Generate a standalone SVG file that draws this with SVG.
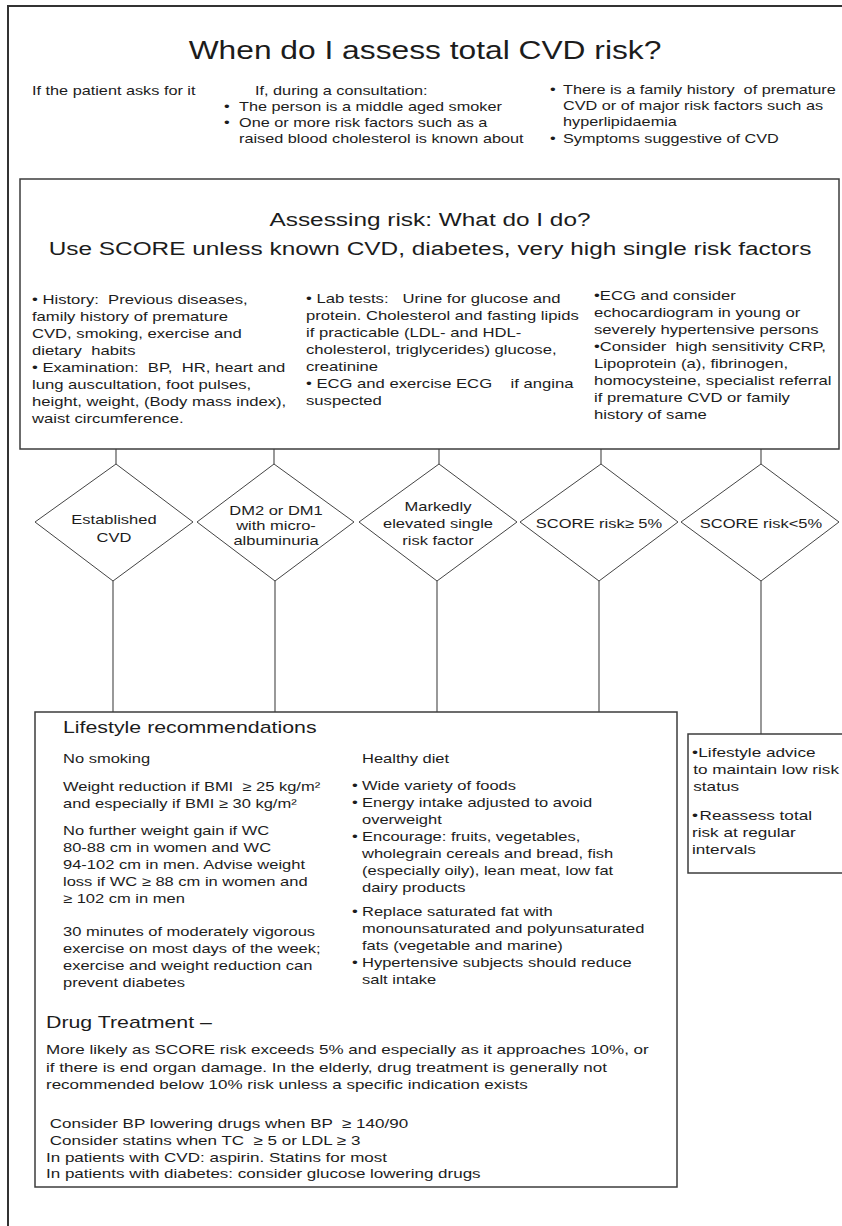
<svg xmlns="http://www.w3.org/2000/svg" width="842" height="1226" viewBox="0 0 842 1226">
<style>
.t{font-family:"Liberation Sans",Arial,sans-serif;fill:#1c1c1c;white-space:pre}
.title{font-size:25px}
.s1{font-size:12.8px}
.h2{font-size:19.2px}
.c2{font-size:13.1px}
.dt{font-size:13px}
.h3{font-size:16.8px}
.b3{font-size:13px}
.rb{font-size:13.5px}
.d4{font-size:13.4px}
.box{fill:#fff;stroke:#3c3c3c;stroke-width:1.5}
.frame{fill:none;stroke:#333;stroke-width:2}
.conn{fill:none;stroke:#555;stroke-width:1.2}
.dia{fill:#fff;stroke:#444;stroke-width:1}
</style>
<rect width="842" height="1226" fill="#fff"/>
<path class="frame" d="M842,6 H8 V1226"/>

<g id="connectors">
<path class="conn" d="M116,449 V464 M274,449 V464 M439,449 V464 M601,449 V464 M761,449 V464"/>
<path class="conn" d="M113,581 V712 M275,581 V712 M437,581 V712 M599,581 V712 M761,581 V734"/>
</g>

<g id="title">
<text class="t title" text-anchor="middle" transform="translate(425,59) scale(1.27,1)">When do I assess total CVD risk?</text>
</g>

<g id="when-patient-asks">
<text class="t s1" transform="translate(32,95) scale(1.27,1)">If the patient asks for it</text>
</g>

<g id="when-consultation">
<text class="t s1" transform="translate(255,95) scale(1.27,1)">If, during a consultation:</text>
<text class="t s1" transform="translate(224,111) scale(1.27,1)">•</text>
<text class="t s1" transform="translate(239,111) scale(1.27,1)">The person is a middle aged smoker</text>
<text class="t s1" transform="translate(224,127) scale(1.27,1)">•</text>
<text class="t s1" transform="translate(239,127) scale(1.27,1)">One or more risk factors such as a</text>
<text class="t s1" transform="translate(239,143) scale(1.27,1)">raised blood cholesterol is known about</text>
</g>

<g id="when-family">
<text class="t s1" transform="translate(550,94) scale(1.27,1)">•</text>
<text class="t s1" transform="translate(563,94) scale(1.27,1)">There is a family history  of premature</text>
<text class="t s1" transform="translate(563,110) scale(1.27,1)">CVD or of major risk factors such as</text>
<text class="t s1" transform="translate(563,126) scale(1.27,1)">hyperlipidaemia</text>
<text class="t s1" transform="translate(550,143) scale(1.27,1)">•</text>
<text class="t s1" transform="translate(563,143) scale(1.27,1)">Symptoms suggestive of CVD</text>
</g>

<g id="assess-box">
<rect class="box" x="20" y="179" width="819" height="270"/>
<text class="t h2" text-anchor="middle" transform="translate(430,226) scale(1.27,1)">Assessing risk: What do I do?</text>
<text class="t h2" text-anchor="middle" transform="translate(430,255) scale(1.27,1)">Use SCORE unless known CVD, diabetes, very high single risk factors</text>
<g transform="translate(32,0) scale(1.27,1)">
<text class="t c2" x="0" y="304">• History:  Previous diseases,</text>
<text class="t c2" x="0" y="321">family history of premature</text>
<text class="t c2" x="0" y="338">CVD, smoking, exercise and</text>
<text class="t c2" x="0" y="355">dietary  habits</text>
<text class="t c2" x="0" y="372">• Examination:  BP,  HR, heart and</text>
<text class="t c2" x="0" y="389">lung auscultation, foot pulses,</text>
<text class="t c2" x="0" y="406">height, weight, (Body mass index),</text>
<text class="t c2" x="0" y="423">waist circumference.</text>
</g>
<g transform="translate(306,0) scale(1.27,1)">
<text class="t c2" x="0" y="303">• Lab tests:   Urine for glucose and</text>
<text class="t c2" x="0" y="320">protein. Cholesterol and fasting lipids</text>
<text class="t c2" x="0" y="337">if practicable (LDL- and HDL-</text>
<text class="t c2" x="0" y="354">cholesterol, triglycerides) glucose,</text>
<text class="t c2" x="0" y="371">creatinine</text>
<text class="t c2" x="0" y="388">• ECG and exercise ECG    if angina</text>
<text class="t c2" x="0" y="405">suspected</text>
</g>
<g transform="translate(594,0) scale(1.27,1)">
<text class="t c2" x="0" y="300">•ECG and consider</text>
<text class="t c2" x="0" y="317">echocardiogram in young or</text>
<text class="t c2" x="0" y="334">severely hypertensive persons</text>
<text class="t c2" x="0" y="351">•Consider  high sensitivity CRP,</text>
<text class="t c2" x="0" y="368">Lipoprotein (a), fibrinogen,</text>
<text class="t c2" x="0" y="385">homocysteine, specialist referral</text>
<text class="t c2" x="0" y="402">if premature CVD or family</text>
<text class="t c2" x="0" y="419">history of same</text>
</g>
</g>

<g id="d-established-cvd">
<polygon class="dia" points="116,464 193,522 113,581 35,522"/>
<text class="t dt" text-anchor="middle" transform="translate(114,524) scale(1.27,1)">Established</text>
<text class="t dt" text-anchor="middle" transform="translate(114,542) scale(1.27,1)">CVD</text>
</g>

<g id="d-diabetes">
<polygon class="dia" points="274,464 354,522 275,581 197,522"/>
<text class="t dt" text-anchor="middle" transform="translate(276,515) scale(1.27,1)">DM2 or DM1</text>
<text class="t dt" text-anchor="middle" transform="translate(276,530) scale(1.27,1)">with micro-</text>
<text class="t dt" text-anchor="middle" transform="translate(276,545) scale(1.27,1)">albuminuria</text>
</g>

<g id="d-single-risk">
<polygon class="dia" points="439,464 517,522 437,581 359,522"/>
<text class="t dt" text-anchor="middle" transform="translate(438,511) scale(1.27,1)">Markedly</text>
<text class="t dt" text-anchor="middle" transform="translate(438,528) scale(1.27,1)">elevated single</text>
<text class="t dt" text-anchor="middle" transform="translate(438,545) scale(1.27,1)">risk factor</text>
</g>

<g id="d-score-high">
<polygon class="dia" points="601,464 678,522 599,581 520,522"/>
<text class="t dt" text-anchor="middle" transform="translate(599,528) scale(1.27,1)">SCORE risk≥ 5%</text>
</g>

<g id="d-score-low">
<polygon class="dia" points="761,464 839,522 761,581 681,522"/>
<text class="t dt" text-anchor="middle" transform="translate(761,528) scale(1.27,1)">SCORE risk&lt;5%</text>
</g>

<g id="lifestyle-box">
<rect class="box" x="35" y="712" width="642" height="475"/>
<text class="t h3" transform="translate(63,733) scale(1.27,1)">Lifestyle recommendations</text>
<g transform="translate(63,0) scale(1.27,1)">
<text class="t b3" x="0" y="763">No smoking</text>
<text class="t b3" x="0" y="791">Weight reduction if BMI  ≥ 25 kg/m²</text>
<text class="t b3" x="0" y="808">and especially if BMI ≥ 30 kg/m²</text>
<text class="t b3" x="0" y="835">No further weight gain if WC</text>
<text class="t b3" x="0" y="852">80-88 cm in women and WC</text>
<text class="t b3" x="0" y="869">94-102 cm in men. Advise weight</text>
<text class="t b3" x="0" y="886">loss if WC ≥ 88 cm in women and</text>
<text class="t b3" x="0" y="903">≥ 102 cm in men</text>
<text class="t b3" x="0" y="936">30 minutes of moderately vigorous</text>
<text class="t b3" x="0" y="953">exercise on most days of the week;</text>
<text class="t b3" x="0" y="970">exercise and weight reduction can</text>
<text class="t b3" x="0" y="987">prevent diabetes</text>
</g>
<g transform="translate(352,0) scale(1.27,1)">
<text class="t b3" x="7.9" y="763">Healthy diet</text>
<text class="t b3" x="0" y="790">•</text>
<text class="t b3" x="7.9" y="790">Wide variety of foods</text>
<text class="t b3" x="0" y="807">•</text>
<text class="t b3" x="7.9" y="807">Energy intake adjusted to avoid</text>
<text class="t b3" x="7.9" y="824">overweight</text>
<text class="t b3" x="0" y="841">•</text>
<text class="t b3" x="7.9" y="841">Encourage: fruits, vegetables,</text>
<text class="t b3" x="7.9" y="858">wholegrain cereals and bread, fish</text>
<text class="t b3" x="7.9" y="875">(especially oily), lean meat, low fat</text>
<text class="t b3" x="7.9" y="892">dairy products</text>
<text class="t b3" x="0" y="916">•</text>
<text class="t b3" x="7.9" y="916">Replace saturated fat with</text>
<text class="t b3" x="7.9" y="933">monounsaturated and polyunsaturated</text>
<text class="t b3" x="7.9" y="950">fats (vegetable and marine)</text>
<text class="t b3" x="0" y="967">•</text>
<text class="t b3" x="7.9" y="967">Hypertensive subjects should reduce</text>
<text class="t b3" x="7.9" y="984">salt intake</text>
</g>
<text class="t h3" transform="translate(46,1028) scale(1.27,1)">Drug Treatment –</text>
<g transform="translate(46,0) scale(1.27,1)">
<text class="t d4" x="0" y="1054">More likely as SCORE risk exceeds 5% and especially as it approaches 10%, or</text>
<text class="t d4" x="0" y="1072">if there is end organ damage. In the elderly, drug treatment is generally not</text>
<text class="t d4" x="0" y="1089">recommended below 10% risk unless a specific indication exists</text>
<text class="t d4" x="3" y="1128">Consider BP lowering drugs when BP  ≥ 140/90</text>
<text class="t d4" x="3" y="1145">Consider statins when TC  ≥ 5 or LDL ≥ 3</text>
<text class="t d4" x="0" y="1162">In patients with CVD: aspirin. Statins for most</text>
<text class="t d4" x="0" y="1178">In patients with diabetes: consider glucose lowering drugs</text>
</g>
</g>

<g id="low-risk-box">
<rect class="box" x="688" y="734" width="170" height="139"/>
<g transform="translate(692,0) scale(1.27,1)">
<text class="t rb" x="0" y="757">•</text>
<text class="t rb" x="5" y="757">Lifestyle advice</text>
<text class="t rb" x="1" y="774">to maintain low risk</text>
<text class="t rb" x="1" y="791">status</text>
<text class="t rb" x="0" y="820">•</text>
<text class="t rb" x="6" y="820">Reassess total</text>
<text class="t rb" x="0" y="837">risk at regular</text>
<text class="t rb" x="0" y="854">intervals</text>
</g>
</g>
</svg>
